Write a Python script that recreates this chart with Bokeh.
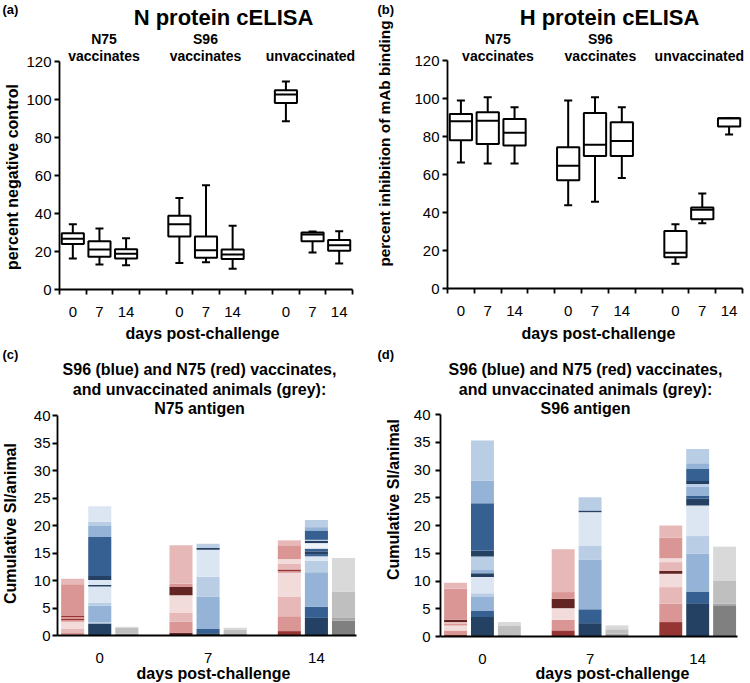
import numpy as np
from bokeh.plotting import figure
from bokeh.models import Label, FixedTicker, Range1d, ColumnDataSource
from bokeh.layouts import row, column
from bokeh.embed import file_html
from bokeh.resources import INLINE

FONT = "Liberation Sans"

# ---------------- data: box plots ----------------
days = ["0", "7", "14"]
box_groups = ["N75", "S96", "unvaccinated"]

# (a) N protein cELISA, percent negative control (N75 d0,7,14 | S96 d0,7,14 | unvacc d0,7,14)
a_max = [34.4, 32.1, 27.0, 48.1, 54.9, 33.5, 109.5, 30.5, 30.7]
a_q3 = [29.6, 25.4, 21.2, 38.8, 27.9, 21.1, 104.9, 30.0, 26.0]
a_med = [26.7, 21.1, 18.8, 34.4, 20.7, 18.4, 102.6, 28.9, 23.3]
a_q1 = [23.9, 17.2, 16.3, 27.9, 16.7, 16.1, 98.1, 25.4, 20.4]
a_min = [16.3, 13.2, 12.8, 14.0, 14.4, 10.9, 88.6, 19.5, 13.7]

# (b) H protein cELISA, percent inhibition of mAb binding
b_max = [98.9, 100.7, 95.4, 98.9, 100.7, 95.4, 33.8, 50.0, 89.6]
b_q3 = [91.9, 92.7, 89.2, 74.3, 92.4, 87.5, 30.3, 42.6, 89.6]
b_med = [88.0, 88.3, 82.0, 64.6, 75.7, 77.6, 18.8, 41.5, 89.6]
b_q1 = [78.0, 76.0, 75.3, 57.0, 69.7, 69.7, 16.5, 36.4, 85.2]
b_min = [66.3, 65.8, 65.8, 43.8, 45.6, 58.1, 13.0, 34.3, 81.1]

# ---------------- data: stacked bars (segment heights, bottom to top) ----------------
bar_days = ["0", "7", "14"]
bar_groups = ["red", "blue", "grey"]

# (c) N75 antigen
c_d0_red = [0.45, 0.75, 1.3, 0.3, 0.2, 0.35, 0.2, 5.75, 1.0]
c_d0_red_shade = ["md", "lt", "pl", "md", "dp", "md", "dp", "md", "lt"]
c_d0_blue = [2.2, 0.2, 3.0, 0.6, 2.9, 0.3, 0.9, 0.7, 7.1, 2.0, 0.8, 2.8]
c_d0_blue_shade = ["nv", "lt", "md", "lt", "pl", "nv", "pl", "nv", "dk", "md", "lt", "pl"]
c_d0_grey = [0.3, 1.1, 0.2]
c_d0_grey_shade = ["md", "lt", "pl"]
c_d7_red = [0.5, 2.0, 1.6, 3.2, 1.5, 0.6, 7.0]
c_d7_red_shade = ["dk", "md", "lt", "pl", "dk", "md", "lt"]
c_d7_blue = [0.4, 0.8, 5.9, 3.6, 4.9, 0.3, 0.8]
c_d7_blue_shade = ["nv", "dk", "md", "lt", "pl", "nv", "lt"]
c_d7_grey = [0.4, 0.6, 0.4]
c_d7_grey_shade = ["md", "lt", "pl"]
c_d14_red = [0.8, 2.7, 3.5, 4.4, 0.3, 0.3, 1.0, 0.9, 2.5, 0.9]
c_d14_red_shade = ["dp", "md", "lt", "pl", "md", "dp", "lt", "pl", "md", "lt"]
c_d14_blue = [3.2, 2.0, 6.3, 2.1, 0.8, 0.4, 0.5, 0.5, 1.0, 0.4, 0.2, 1.7, 0.6, 1.3]
c_d14_blue_shade = ["nv", "dk", "md", "lt", "pl", "dk", "nv", "dk", "wh", "nv", "lt", "dk", "md", "lt"]
c_d14_grey = [2.7, 0.6, 4.7, 6.1]
c_d14_grey_shade = ["dk", "md", "lt", "pl"]

# (d) S96 antigen
d_d0_red = [0.35, 0.75, 0.9, 0.3, 0.3, 0.4, 5.6, 1.1]
d_d0_red_shade = ["dp", "md", "pl", "md", "lt", "dk", "md", "lt"]
d_d0_blue = [3.5, 1.2, 2.4, 0.7, 2.9, 0.7, 0.6, 2.4, 1.1, 8.5, 4.1, 7.2]
d_d0_blue_shade = ["nv", "dk", "md", "lt", "pl", "nv", "md", "lt", "nv", "dk", "md", "lt"]
d_d0_grey = [0.4, 1.6, 0.6]
d_d0_grey_shade = ["md", "lt", "pl"]
d_d7_red = [1.1, 1.9, 2.1, 1.7, 1.2, 7.7]
d_d7_red_shade = ["dp", "md", "pl", "dk", "md", "lt"]
d_d7_blue = [2.4, 2.5, 8.9, 2.6, 6.0, 0.3, 2.4]
d_d7_blue_shade = ["nv", "dk", "md", "lt", "pl", "nv", "lt"]
d_d7_grey = [0.5, 0.8, 0.7]
d_d7_grey_shade = ["md", "lt", "pl"]
d_d14_red = [2.6, 3.3, 3.0, 2.4, 0.5, 1.6, 0.7, 3.7, 2.2]
d_d14_red_shade = ["dp", "md", "lt", "pl", "dk", "lt", "pl", "md", "lt"]
d_d14_blue = [6.0, 2.1, 6.8, 3.2, 5.5, 1.2, 0.6, 1.6, 0.5, 0.5, 2.2, 1.0, 2.6]
d_d14_blue_shade = ["nv", "dk", "md", "lt", "pl", "nv", "dk", "md", "lt", "nv", "dk", "md", "lt"]
d_d14_grey = [5.5, 0.4, 4.1, 6.2]
d_d14_grey_shade = ["dk", "md", "lt", "pl"]

PAL = {
    "red": {"dk": "#632523", "dp": "#963634", "md": "#DA9694", "lt": "#E6B8B7", "pl": "#F2DCDB"},
    "blue": {"nv": "#244062", "dk": "#366092", "md": "#95B3D7", "lt": "#B9CDE5", "pl": "#DCE6F2", "wh": "#EEF3F9"},
    "grey": {"dk": "#808080", "md": "#A6A6A6", "lt": "#BFBFBF", "pl": "#D9D9D9"},
}

C_BARS = {
    (0, "red"): (c_d0_red, c_d0_red_shade), (0, "blue"): (c_d0_blue, c_d0_blue_shade), (0, "grey"): (c_d0_grey, c_d0_grey_shade),
    (1, "red"): (c_d7_red, c_d7_red_shade), (1, "blue"): (c_d7_blue, c_d7_blue_shade), (1, "grey"): (c_d7_grey, c_d7_grey_shade),
    (2, "red"): (c_d14_red, c_d14_red_shade), (2, "blue"): (c_d14_blue, c_d14_blue_shade), (2, "grey"): (c_d14_grey, c_d14_grey_shade),
}
D_BARS = {
    (0, "red"): (d_d0_red, d_d0_red_shade), (0, "blue"): (d_d0_blue, d_d0_blue_shade), (0, "grey"): (d_d0_grey, d_d0_grey_shade),
    (1, "red"): (d_d7_red, d_d7_red_shade), (1, "blue"): (d_d7_blue, d_d7_blue_shade), (1, "grey"): (d_d7_grey, d_d7_grey_shade),
    (2, "red"): (d_d14_red, d_d14_red_shade), (2, "blue"): (d_d14_blue, d_d14_blue_shade), (2, "grey"): (d_d14_grey, d_d14_grey_shade),
}

# ---------------- layout geometry (figure px): plot area inside each canvas ----------------
GA = dict(W=375, H=345, L=59, T=61, FW=293, FH=228, xr=(-0.5, 10.5), yr=(0, 120))
GB = dict(W=375, H=345, L=72, T=60, FW=295, FH=228, xr=(-0.5, 10.5), yr=(0, 120))
GC = dict(W=375, H=338, L=57, T=70, FW=299, FH=220, xr=(-0.39, 2.37), yr=(0, 40))
GD = dict(W=375, H=338, L=65, T=69, FW=297, FH=222, xr=(-0.39, 2.37), yr=(0, 40))


def geo(g):
    ux = (g["xr"][1] - g["xr"][0]) / g["FW"]
    uy = (g["yr"][1] - g["yr"][0]) / g["FH"]
    x0 = g["xr"][0] - g["L"] * ux
    x1 = g["xr"][1] + (g["W"] - g["L"] - g["FW"]) * ux
    y0 = g["yr"][0] - (g["H"] - g["T"] - g["FH"]) * uy
    y1 = g["yr"][1] + g["T"] * uy
    return ux, uy, x0, x1, y0, y1


def make_fig(g):
    ux, uy, x0, x1, y0, y1 = geo(g)
    p = figure(width=g["W"], height=g["H"], x_range=Range1d(x0, x1), y_range=Range1d(y0, y1),
               output_backend="svg", toolbar_location=None, tools="",
               min_border_left=0, min_border_top=0, min_border_right=0, min_border_bottom=0)
    p.outline_line_color = None
    p.grid.visible = False
    p.xaxis.fixed_location = g["yr"][0]
    p.xaxis.bounds = g["xr"]
    p.yaxis.fixed_location = g["xr"][0]
    p.yaxis.bounds = g["yr"]
    for ax in (p.xaxis[0], p.yaxis[0]):
        ax.axis_line_color = "black"
        ax.axis_line_width = 1.8
        ax.major_label_text_font = FONT
        ax.major_label_text_font_size = "15px"
        ax.major_label_text_color = "black"
        ax.major_tick_line_color = "black"
        ax.major_tick_line_width = 1.8
        ax.major_tick_in = 0
        ax.minor_tick_line_color = None
    p.yaxis.major_tick_out = 5
    p.yaxis.major_label_standoff = 3
    p.xaxis.major_tick_out = 0
    p.xaxis.major_label_standoff = 13
    return p


def add_text(p, g, fx, fy, text, size, bold=True, align="center", baseline="middle", angle=0.0, x_data=None):
    ux, uy, x0, x1, y0, y1 = geo(g)
    x = x0 + fx * ux if x_data is None else x_data
    y = y1 - fy * uy
    p.add_layout(Label(x=x, y=y, text=text, text_font=FONT, text_font_size=f"{size}px",
                       text_font_style="bold" if bold else "normal", text_align=align,
                       text_baseline=baseline, angle=angle, text_color="black"))


def box_panel(g, mx, q3, med, q1, mn, letter, title, ylabel, ylab_size, title_fx, group_x, ylab_pos, xlab_fx):
    p = make_fig(g)
    slots = [gi * 4 + di for gi in range(len(box_groups)) for di in range(len(days))]
    src = ColumnDataSource(dict(
        x=slots, xl=[s - 0.415 for s in slots], xr=[s + 0.415 for s in slots],
        cl=[s - 0.15 for s in slots], cr=[s + 0.15 for s in slots],
        mx=mx, q3=q3, med=med, q1=q1, mn=mn))
    p.segment(x0="x", x1="x", y0="q3", y1="mx", source=src, line_color="black", line_width=2)
    p.segment(x0="x", x1="x", y0="q1", y1="mn", source=src, line_color="black", line_width=2)
    p.segment(x0="cl", x1="cr", y0="mx", y1="mx", source=src, line_color="black", line_width=2)
    p.segment(x0="cl", x1="cr", y0="mn", y1="mn", source=src, line_color="black", line_width=2)
    p.quad(left="xl", right="xr", bottom="q1", top="q3", source=src,
           fill_color="white", line_color="black", line_width=2)
    p.segment(x0="xl", x1="xr", y0="med", y1="med", source=src, line_color="black", line_width=2)

    p.xaxis.ticker = FixedTicker(ticks=slots, minor_ticks=[s - 0.5 for s in range(12)])
    p.xaxis.major_label_overrides = {s: days[i % 3] for i, s in enumerate(slots)}
    p.xaxis.minor_tick_line_color = "black"
    p.xaxis.minor_tick_line_width = 1.8
    p.xaxis.minor_tick_out = 5
    p.xaxis.minor_tick_in = 0
    p.xaxis.major_label_standoff = 12
    p.yaxis.ticker = FixedTicker(ticks=list(range(0, 121, 20)))

    add_text(p, g, 2, 1, letter, 13, align="left", baseline="top")
    add_text(p, g, title_fx, 16.5, title, 22)
    for name, gx in zip(box_groups, group_x):
        if name == "unvaccinated":
            add_text(p, g, 0, 55.2, "unvaccinated", 14, x_data=gx)
        else:
            add_text(p, g, 0, 38, name, 14, x_data=gx)
            add_text(p, g, 0, 55.2, "vaccinates", 14, x_data=gx)
    add_text(p, g, ylab_pos[0], ylab_pos[1], ylabel, ylab_size, angle=np.pi / 2)
    add_text(p, g, xlab_fx, 333, "days post-challenge", 16)
    return p


def bar_panel(g, bars, letter, antigen, ylab_pos, xlab_fx, title_fx, ystand):
    p = make_fig(g)
    xs, bots, tops, cols = [], [], [], []
    for di in range(len(bar_days)):
        for gi, grp in enumerate(bar_groups):
            heights, shades = bars[(di, grp)]
            cum = np.cumsum(heights)
            bottoms = np.concatenate([[0.0], cum[:-1]])
            for b, t, s in zip(bottoms, cum, shades):
                xs.append(di + (gi - 1) * 0.25)
                bots.append(float(b))
                tops.append(float(t))
                cols.append(PAL[grp][s])
    src = ColumnDataSource(dict(x=xs, bottom=bots, top=tops, color=cols))
    p.vbar(x="x", bottom="bottom", top="top", width=0.213, source=src,
           fill_color="color", line_color=None)
    p.xaxis.ticker = FixedTicker(ticks=[0, 1, 2])
    p.xaxis.major_label_overrides = {i: d for i, d in enumerate(bar_days)}
    p.xaxis.major_label_standoff = 17
    p.yaxis.ticker = FixedTicker(ticks=list(range(0, 41, 5)))
    p.yaxis.major_label_standoff = ystand

    add_text(p, g, 2, 1, letter, 13, align="left", baseline="top")
    add_text(p, g, title_fx, 24, "S96 (blue) and N75 (red) vaccinates,", 16)
    add_text(p, g, title_fx, 44, "and unvaccinated animals (grey):", 16)
    add_text(p, g, title_fx, 63, antigen, 16)
    add_text(p, g, ylab_pos[0], ylab_pos[1], "Cumulative SI/animal", 16, angle=np.pi / 2)
    add_text(p, g, xlab_fx, 328, "days post-challenge", 16)
    return p


pa = box_panel(GA, a_max, a_q3, a_med, a_q1, a_min, "(a)", "N protein cELISA",
               "percent negative control", 16, 223, [1.17, 4.98, 8.92], (12, 176.5), 202)
pb = box_panel(GB, b_max, b_q3, b_med, b_q1, b_min, "(b)", "H protein cELISA",
               "percent inhibition of mAb binding", 15.4, 234, [1.38, 5.2, 8.89], (9, 143), 223)
pc = bar_panel(GC, C_BARS, "(c)", "N75 antigen", (10, 178), 213, 199, 2)
pd = bar_panel(GD, D_BARS, "(d)", "S96 antigen", (17.5, 154), 237, 210, 5)

layout = column(row(pa, pb, spacing=0), row(pc, pd, spacing=0), spacing=0)
open("out.html", "w").write(file_html(layout, INLINE))
